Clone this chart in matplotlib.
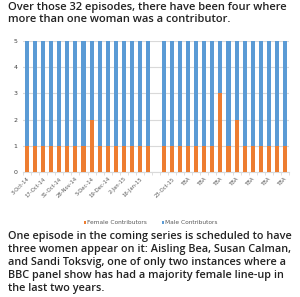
import matplotlib
matplotlib.use("Agg")
import matplotlib.pyplot as plt
import numpy as np

# ---- data ----
dates_2014 = ['3-Oct-14', '10-Oct-14', '17-Oct-14', '24-Oct-14', '31-Oct-14', '7-Nov-14',
              '28-Nov-14', '29-Nov-14', '5-Dec-14', '12-Dec-14', '19-Dec-14', '26-Dec-14',
              '2-Jan-15', '9-Jan-15', '16-Jan-15', '23-Jan-15']
dates_2015 = ['16-Oct-15', '23-Oct-15', '30-Oct-15', 'TBA', 'TBA', 'TBA', 'TBA', 'TBA',
              'TBA', 'TBA', 'TBA', 'TBA', 'TBA', 'TBA', 'TBA', 'TBA']
categories = dates_2014 + [''] + dates_2015

female = [1, 1, 1, 1, 1, 1, 1, 1, 2, 1, 1, 1, 1, 1, 1, 1,
          0,
          1, 1, 1, 1, 1, 1, 1, 3, 1, 2, 1, 1, 1, 1, 1, 1]
male = [4, 4, 4, 4, 4, 4, 4, 4, 3, 4, 4, 4, 4, 4, 4, 4,
        0,
        4, 4, 4, 4, 4, 4, 4, 2, 4, 3, 4, 4, 4, 4, 4, 4]

title = "Over those 32 episodes, there have been four where\nmore than one woman was a contributor."
body = ("One episode in the coming series is scheduled to have\n"
        "three women appear on it: Aisling Bea, Susan Calman,\n"
        "and Sandi Toksvig, one of only two instances where a\n"
        "BBC panel show has had a majority female line-up in\n"
        "the last two years.")

orange = '#ED7D31'
blue = '#5B9BD5'
txt = '#222222'

fig = plt.figure(figsize=(3.0, 2.97), dpi=100)
ax = fig.add_axes([0.077, 0.421, 0.886, 0.441])

x = np.arange(len(categories))
ax.bar(x, female, width=0.5, color=orange, label='Female Contributors', zorder=3)
ax.bar(x, male, width=0.5, bottom=female, color=blue, label='Male Contributors', zorder=3)

ax.set_xlim(-0.5, len(categories) - 0.5)
ax.set_ylim(0, 5)
ax.set_yticks(range(6))
ax.yaxis.grid(True, color='#d9d9d9', linewidth=0.8, zorder=0)
for s in ['top', 'right', 'left']:
    ax.spines[s].set_visible(False)
ax.spines['bottom'].set_color('#d9d9d9')
ax.tick_params(axis='y', length=0, labelsize=4.5, labelcolor='#404040', pad=4)

ax.set_xticks(x[::2])
ax.set_xticklabels(categories[::2], rotation=45, ha='right', rotation_mode='anchor',
                   fontsize=3.8, color='#595959')
ax.set_xticks(np.arange(len(categories) + 1) - 0.5, minor=True)
ax.tick_params(axis='x', which='major', length=0, pad=3)
ax.tick_params(axis='x', which='minor', length=2, color='#d9d9d9')

ax.legend(loc='upper center', bbox_to_anchor=(0.48, -0.33), ncol=2, frameon=False,
          fontsize=4.2, handlelength=0.35, handleheight=0.35, handletextpad=0.2,
          columnspacing=2.5, labelcolor='#595959')

fig.text(0.027, 0.993, title, ha='left', va='top', fontsize=8.0, fontweight='semibold',
         family='Open Sans', color=txt, linespacing=1.12)
fig.text(0.027, 0.222, body, ha='left', va='top', fontsize=7.85, fontweight='semibold',
         family='Open Sans', color=txt, linespacing=1.25)

fig.savefig('out.png', dpi=100)
